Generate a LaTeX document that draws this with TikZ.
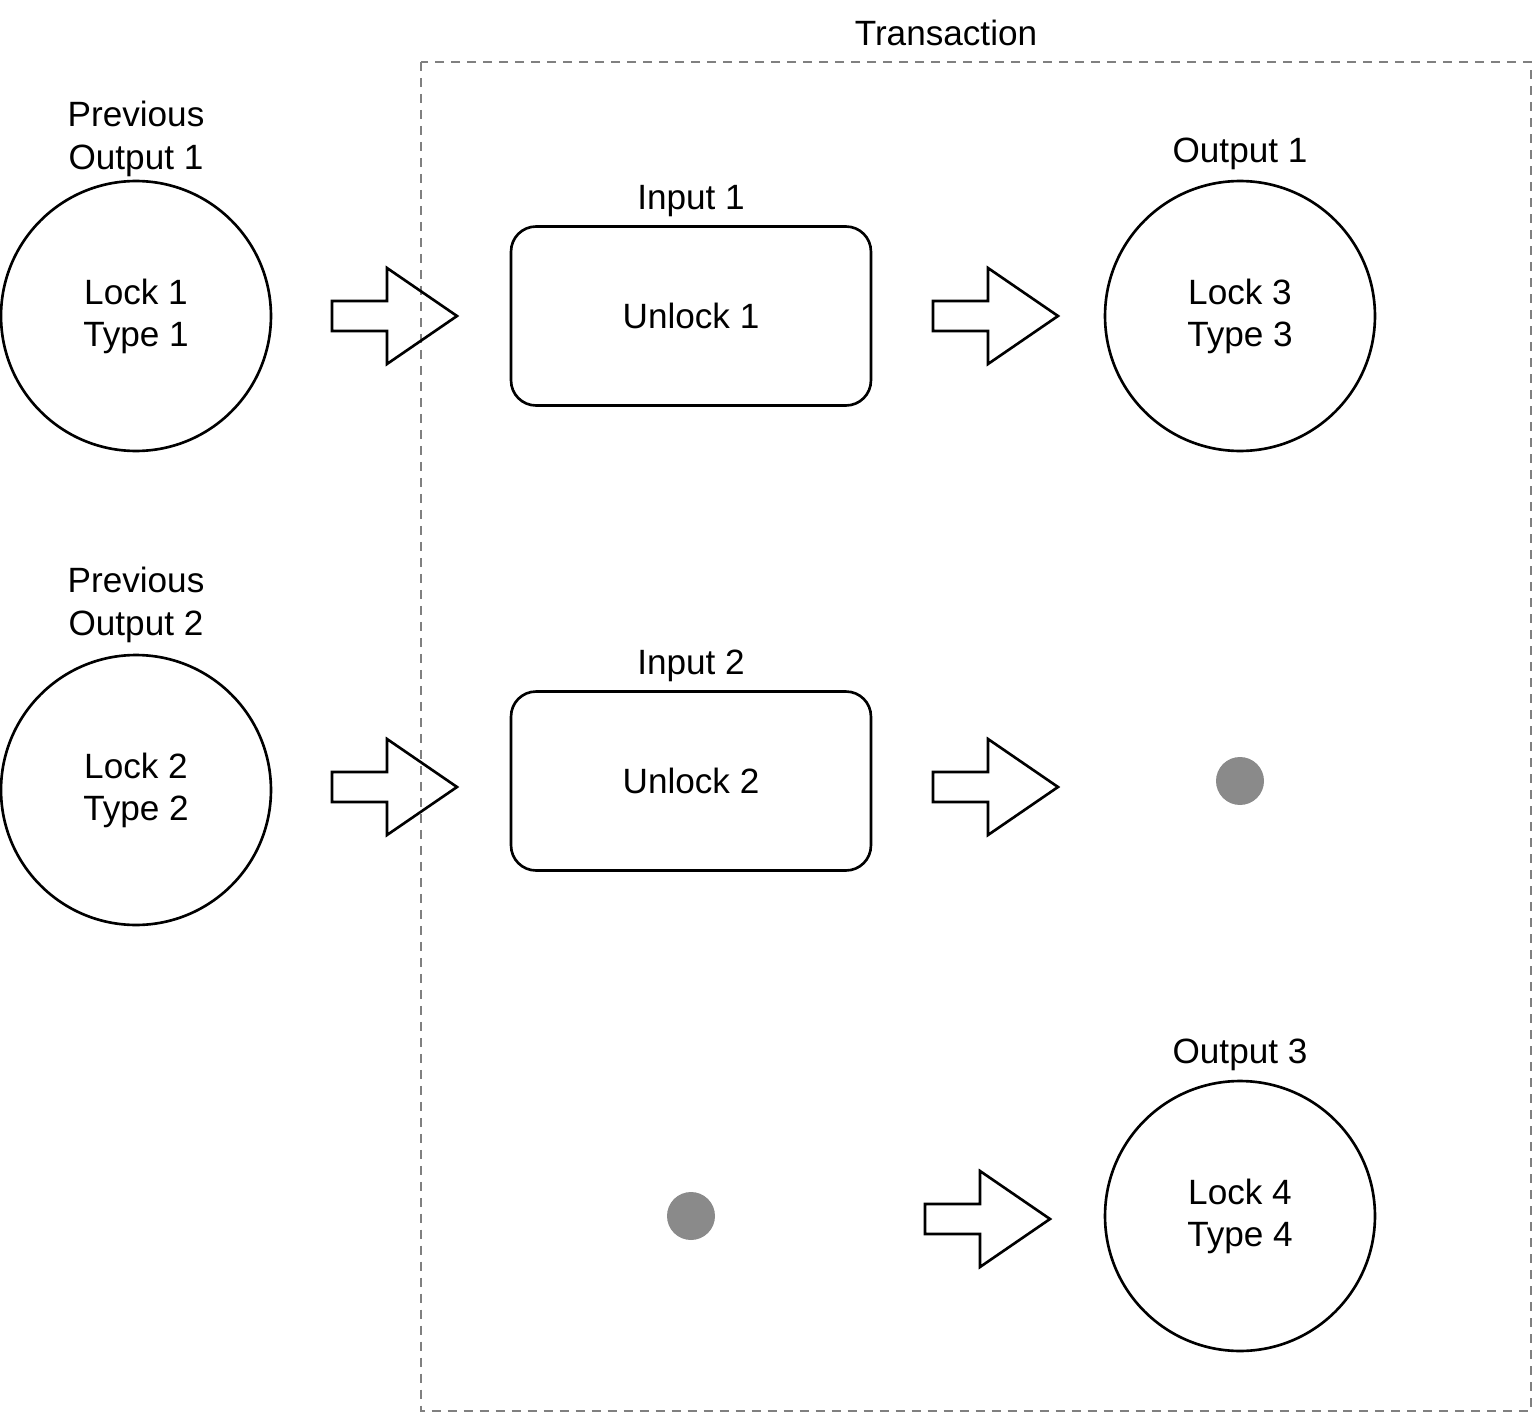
\documentclass[tikz,border=0pt]{standalone}
\usepackage{fontspec}
\setmainfont{Liberation Sans}
\usetikzlibrary{positioning}
\begin{document}
\begin{tikzpicture}[x=0.02cm,y=-0.02cm,
    every node/.style={font=\fontsize{20}{24}\selectfont},
    coin/.style={circle,draw,line width=1.5pt,minimum size=5.4cm,inner sep=0pt,align=center},
    unlockbox/.style={draw,rounded corners=0.5cm,line width=1.5pt,minimum width=7.2cm,minimum height=3.58cm,align=center},
    tag/.style={inner sep=0pt,align=center},
    spent/.style={circle,fill=black!46,minimum size=0.96cm,inner sep=0pt},
    txbox/.style={draw=black!50,line width=1pt,dash pattern=on 0.18cm off 0.14cm},
    blockarr/.pic={
      \draw[line width=1.5pt,line join=miter]
        (0,-15)--(55,-15)--(55,-48)--(125,0)--(55,48)--(55,15)--(0,15)--cycle;
    },
  ]
  \useasboundingbox (0,0) rectangle (1536,1416);

  % transaction frame
  \draw[txbox] (421,62) rectangle (1531,1411);
  \node[tag] (txlbl) at (946,33) {Transaction};

  % previous outputs
  \node[coin] (prev1) at (136,316) {Lock 1\\Type 1};
  \node[tag,above=0.06cm of prev1] (prev1lbl) {Previous\\Output 1};
  \node[coin] (prev2) at (136,790) {Lock 2\\Type 2};
  \node[tag,above=0.22cm of prev2] (prev2lbl) {Previous\\Output 2};

  % inputs
  \node[unlockbox] (in1) at (691,316) {Unlock 1};
  \node[tag,above=0.17cm of in1] (in1lbl) {Input 1};
  \node[unlockbox] (in2) at (691,781) {Unlock 2};
  \node[tag,above=0.17cm of in2] (in2lbl) {Input 2};

  % outputs
  \node[coin] (out1) at (1240,316) {Lock 3\\Type 3};
  \node[tag,above=0.2cm of out1] (out1lbl) {Output 1};
  \node[spent] (out2) at (1240,781) {};
  \node[spent] (in3) at (691,1216) {};
  \node[coin] (out3) at (1240,1216) {Lock 4\\Type 4};
  \node[tag,above=0.17cm of out3] (out3lbl) {Output 3};

  % block arrows
  \pic at (332,316) {blockarr};
  \pic at (933,316) {blockarr};
  \pic at (332,787) {blockarr};
  \pic at (933,787) {blockarr};
  \pic at (925,1219) {blockarr};
\end{tikzpicture}
\end{document}
